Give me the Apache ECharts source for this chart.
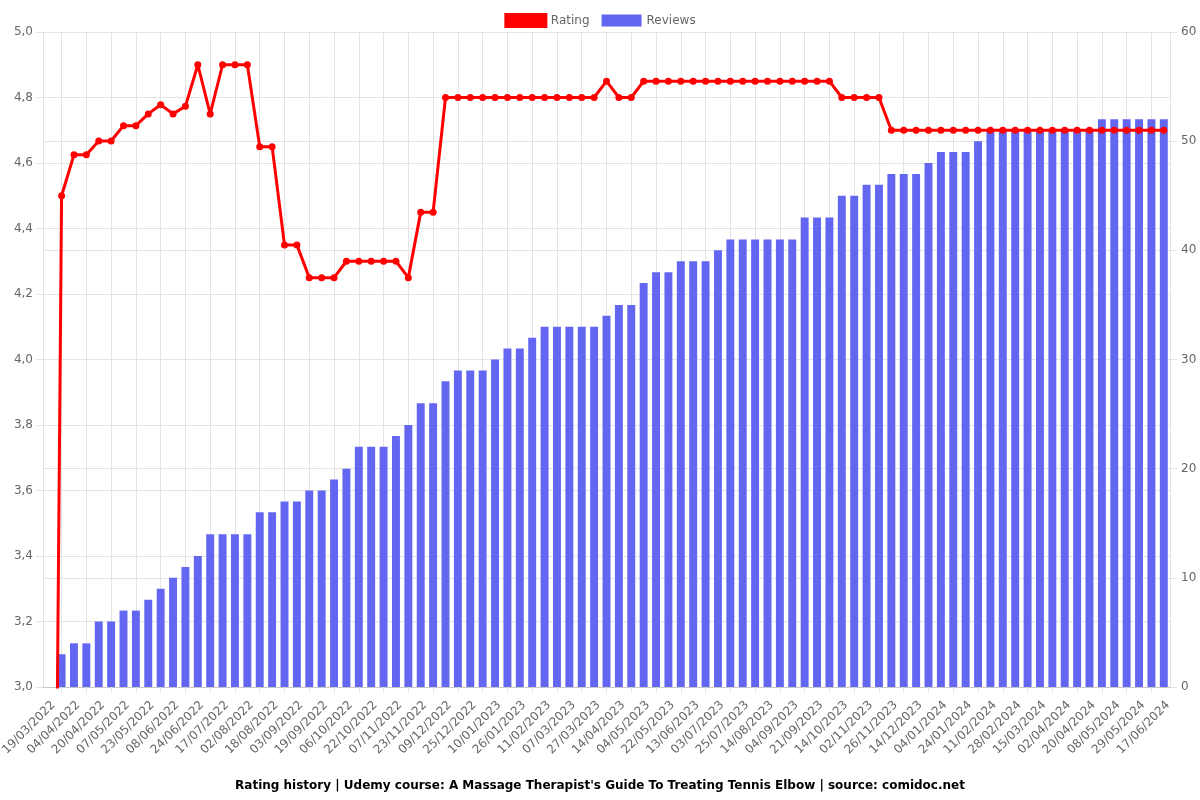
<!DOCTYPE html>
<html>
<head>
<meta charset="utf-8">
<script src="https://cdn.jsdelivr.net/npm/echarts@6/dist/echarts.min.js"></script>
<style>
html,body{margin:0;padding:0;background:#fff;}
#main{width:1200px;height:800px;}
</style>
</head>
<body>
<div id="main"></div>
<script>
const dates = [
 '19/03/2022','27/03/2022','04/04/2022','12/04/2022','20/04/2022','28/04/2022','07/05/2022','15/05/2022','23/05/2022','31/05/2022',
 '08/06/2022','16/06/2022','24/06/2022','05/07/2022','17/07/2022','25/07/2022','02/08/2022','10/08/2022','18/08/2022','26/08/2022',
 '03/09/2022','11/09/2022','19/09/2022','27/09/2022','06/10/2022','14/10/2022','22/10/2022','30/10/2022','07/11/2022','15/11/2022',
 '23/11/2022','01/12/2022','09/12/2022','17/12/2022','25/12/2022','02/01/2023','10/01/2023','18/01/2023','26/01/2023','03/02/2023',
 '11/02/2023','23/02/2023','07/03/2023','17/03/2023','27/03/2023','05/04/2023','14/04/2023','24/04/2023','04/05/2023','13/05/2023',
 '22/05/2023','01/06/2023','13/06/2023','23/06/2023','03/07/2023','14/07/2023','25/07/2023','03/08/2023','14/08/2023','24/08/2023',
 '04/09/2023','12/09/2023','21/09/2023','02/10/2023','14/10/2023','23/10/2023','02/11/2023','14/11/2023','26/11/2023','05/12/2023',
 '14/12/2023','24/12/2023','04/01/2024','14/01/2024','24/01/2024','02/02/2024','11/02/2024','19/02/2024','28/02/2024','07/03/2024',
 '15/03/2024','24/03/2024','02/04/2024','11/04/2024','20/04/2024','29/04/2024','08/05/2024','18/05/2024','29/05/2024','08/06/2024',
 '17/06/2024'
];
const rating = [
 0,4.5,4.625,4.625,4.667,4.667,4.714,4.714,4.75,4.778,
 4.75,4.773,4.9,4.75,4.9,4.9,4.9,4.65,4.65,4.35,
 4.35,4.25,4.25,4.25,4.3,4.3,4.3,4.3,4.3,4.25,
 4.45,4.45,4.8,4.8,4.8,4.8,4.8,4.8,4.8,4.8,
 4.8,4.8,4.8,4.8,4.8,4.85,4.8,4.8,4.85,4.85,
 4.85,4.85,4.85,4.85,4.85,4.85,4.85,4.85,4.85,4.85,
 4.85,4.85,4.85,4.85,4.8,4.8,4.8,4.8,4.7,4.7,
 4.7,4.7,4.7,4.7,4.7,4.7,4.7,4.7,4.7,4.7,
 4.7,4.7,4.7,4.7,4.7,4.7,4.7,4.7,4.7,4.7,
 4.7
];
const reviews = [
 0,3,4,4,6,6,7,7,8,9,
 10,11,12,14,14,14,14,16,16,17,
 17,18,18,19,20,22,22,22,23,24,
 26,26,28,29,29,29,30,31,31,32,
 33,33,33,33,33,34,35,35,37,38,
 38,39,39,39,40,41,41,41,41,41,
 41,43,43,43,45,45,46,46,47,47,
 47,48,49,49,49,50,51,51,51,51,
 51,51,51,51,51,52,52,52,52,52,
 52
];
const titleText = "Rating history | Udemy course: A Massage Therapist's Guide To Treating Tennis Elbow | source: comidoc.net";

const FONT = 'DejaVu Sans';
const GRID = '#e4e4e4';
const chart = echarts.init(document.getElementById('main'), null, {renderer:'canvas'});
chart.setOption({
  animation: false,
  textStyle: {fontFamily: FONT},
  title: {
    text: titleText, left: 'center', top: 775,
    textStyle: {fontFamily: FONT, fontSize: 12, fontWeight: 'bold', color: '#000'}
  },
  legend: {
    top: 8, left: 'center', itemWidth: 40, itemHeight: 12, itemGap: 12,
    textStyle: {fontFamily: FONT, fontSize: 12, color: '#666'},
    data: [
      {name: 'Rating', icon: 'rect', itemStyle: {color: '#ff0000', borderColor: '#ff0000', borderWidth: 3}},
      {name: 'Reviews', icon: 'rect', itemStyle: {color: '#6366f1'}}
    ]
  },
  grid: {left: 43, right: 30, top: 32, bottom: 113, containLabel: false, outerBoundsMode: 'none'},
  xAxis: {
    type: 'category', data: dates, boundaryGap: true,
    axisLine: {show: true, lineStyle: {color: '#c8c8c8'}},
    axisTick: {show: true, alignWithLabel: true, interval: (i) => i % 2 === 1, length: 6, lineStyle: {color: GRID}},
    axisLabel: {interval: (i) => i % 2 === 0, rotate: 45, verticalAlign: 'top', fontFamily: FONT, fontSize: 12, color: '#666', margin: 12},
    splitLine: {show: true, alignWithLabel: true, interval: (i) => i % 2 === 1, lineStyle: {color: GRID}}
  },
  yAxis: [
    {
      type: 'value', min: 3, max: 5, interval: 0.2, position: 'left',
      axisLine: {show: true, lineStyle: {color: GRID}},
      axisTick: {show: true, length: 7, lineStyle: {color: GRID}},
      axisLabel: {fontFamily: FONT, fontSize: 12, color: '#666', margin: 10,
        formatter: (v) => v.toFixed(1).replace('.', ',')},
      splitLine: {show: true, lineStyle: {color: GRID}}
    },
    {
      type: 'value', min: 0, max: 60, interval: 10, position: 'right',
      axisLine: {show: true, lineStyle: {color: GRID}},
      axisTick: {show: true, length: 7, lineStyle: {color: GRID}},
      axisLabel: {fontFamily: FONT, fontSize: 12, color: '#666', margin: 11},
      splitLine: {show: true, lineStyle: {color: GRID}}
    }
  ],
  series: [
    {
      name: 'Reviews', type: 'bar', yAxisIndex: 1, data: reviews,
      barWidth: '64%', itemStyle: {color: '#6366f1'}, z: 2
    },
    {
      name: 'Rating', type: 'line', yAxisIndex: 0, data: rating,
      symbol: 'circle', symbolSize: 7, showSymbol: true, clip: true,
      lineStyle: {color: '#ff0000', width: 3},
      itemStyle: {color: '#ff0000'}, z: 3
    }
  ]
});
</script>
</body>
</html>
